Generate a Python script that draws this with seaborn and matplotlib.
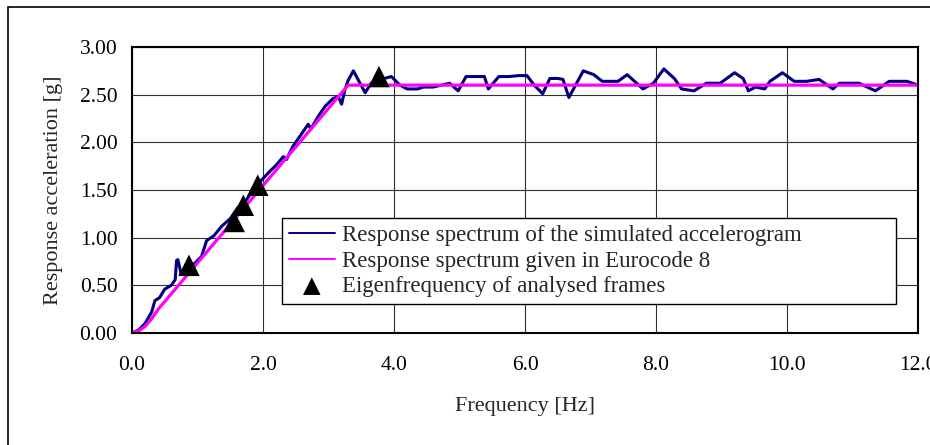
import numpy as np
import pandas as pd
import matplotlib
matplotlib.use("Agg")
import matplotlib.pyplot as plt
from matplotlib.patches import Rectangle
import seaborn as sns

# simulated accelerogram response spectrum
sim_freq = [0.0, 0.1, 0.2, 0.3, 0.35, 0.42, 0.5, 0.6, 0.66, 0.68, 0.70, 0.75,
            0.85, 1.0, 1.06, 1.14, 1.25, 1.37, 1.5, 1.62, 1.75, 1.9, 2.0, 2.11,
            2.2, 2.31, 2.36, 2.45, 2.56, 2.69, 2.73, 2.85, 2.95, 3.07, 3.15,
            3.2, 3.25, 3.3, 3.38, 3.45, 3.56, 3.65, 3.8, 3.96, 4.09, 4.2, 4.36,
            4.45, 4.6, 4.85, 4.98, 5.1, 5.38, 5.44, 5.6, 5.76, 5.9, 6.03, 6.14,
            6.27, 6.38, 6.5, 6.58, 6.67, 6.89, 7.05, 7.18, 7.42, 7.56, 7.8,
            7.96, 8.12, 8.28, 8.39, 8.58, 8.77, 8.98, 9.2, 9.33, 9.41, 9.52,
            9.66, 9.74, 9.93, 10.11, 10.3, 10.49, 10.7, 10.8, 11.1, 11.35,
            11.56, 11.83, 12.0]
sim_acc = [0.0, 0.03, 0.10, 0.22, 0.34, 0.37, 0.46, 0.50, 0.56, 0.76, 0.77, 0.62,
           0.66, 0.76, 0.80, 0.97, 1.02, 1.12, 1.20, 1.32, 1.40, 1.55, 1.62, 1.70,
           1.76, 1.85, 1.82, 1.95, 2.06, 2.19, 2.14, 2.28, 2.38, 2.46, 2.48,
           2.40, 2.55, 2.65, 2.75, 2.66, 2.52, 2.62, 2.66, 2.69, 2.60, 2.56, 2.56,
           2.58, 2.58, 2.62, 2.54, 2.69, 2.69, 2.56, 2.69, 2.69, 2.70, 2.70, 2.60,
           2.51, 2.67, 2.67, 2.66, 2.47, 2.75, 2.71, 2.64, 2.64, 2.71, 2.56,
           2.62, 2.77, 2.67, 2.56, 2.54, 2.62, 2.62, 2.73, 2.67, 2.54, 2.58,
           2.56, 2.64, 2.73, 2.64, 2.64, 2.66, 2.56, 2.62, 2.62, 2.54,
           2.64, 2.64, 2.60]

# Eurocode 8 spectrum
ec8_freq = [0.0, 0.1, 0.2, 0.3, 0.4, 0.5, 3.3, 12.0]
ec8_acc = [0.0, 0.02, 0.07, 0.15, 0.25, 0.33, 2.60, 2.60]

# eigenfrequencies of analysed frames
eig_freq = [0.87, 1.56, 1.70, 1.92, 3.77]
eig_acc = [0.71, 1.17, 1.34, 1.55, 2.69]

sns.set_style("white")
plt.rcParams["font.family"] = ["Liberation Serif", "DejaVu Serif"]

fig = plt.figure(figsize=(9.3, 4.45), dpi=100)
ax = fig.add_axes([132 / 930, 1 - 333 / 445, 786 / 930, 286 / 445])

sim = pd.DataFrame({"f": sim_freq, "a": sim_acc})
ec8 = pd.DataFrame({"f": ec8_freq, "a": ec8_acc})
eig = pd.DataFrame({"f": eig_freq, "a": eig_acc})

sns.lineplot(data=sim, x="f", y="a", ax=ax, color="#000080", lw=2.2,
             label="Response spectrum of the simulated accelerogram", sort=False)
sns.lineplot(data=ec8, x="f", y="a", ax=ax, color="#ff00ff", lw=2.3,
             label="Response spectrum given in Eurocode 8", sort=False)
sns.scatterplot(data=eig, x="f", y="a", ax=ax, marker="^", s=240, color="black",
                edgecolor="none", label="Eigenfrequency of analysed frames", zorder=5)

ax.set_xlim(0, 12)
ax.set_ylim(0, 3)
ax.set_xticks(np.arange(0, 12.1, 2))
ax.set_yticks(np.arange(0, 3.01, 0.5))
ax.set_xticklabels([f"{v:.1f}" for v in np.arange(0, 12.1, 2)])
ax.set_yticklabels([f"{v:.2f}" for v in np.arange(0, 3.01, 0.5)])
ax.grid(True, color="#303030", lw=0.8)
for s in ax.spines.values():
    s.set_color("black")
    s.set_linewidth(1.5)
ax.tick_params(axis="both", direction="out", length=4.5, width=0.8, color="black",
               labelsize=15.5, colors="black")
ax.tick_params(axis="x", pad=12)
ax.tick_params(axis="y", pad=6)
ax.set_xlabel("Frequency [Hz]", fontsize=16, labelpad=16)
ax.set_ylabel("Response acceleration [g]", fontsize=16, labelpad=12)

leg = ax.legend(loc="upper left", bbox_to_anchor=(282 / 930, 1 - 307 / 445, 614 / 930, 89 / 445),
                bbox_transform=fig.transFigure, mode="expand", fontsize=16.5,
                frameon=True, fancybox=False, framealpha=1, edgecolor="black",
                borderpad=0.3, labelspacing=0.2, handlelength=2.0,
                handletextpad=0.3, borderaxespad=0)
leg.get_frame().set_linewidth(1.0)
for ln in leg.get_lines():
    ln.set_linewidth(1.4)
leg.legend_handles[2].set_sizes([160])

fig.patches.append(Rectangle((7.5 / 930, -0.1), 1.2, 1.1 - 7.5 / 445, transform=fig.transFigure,
                             fill=False, edgecolor="black", lw=1.2))

fig.savefig("out.png", dpi=100)
